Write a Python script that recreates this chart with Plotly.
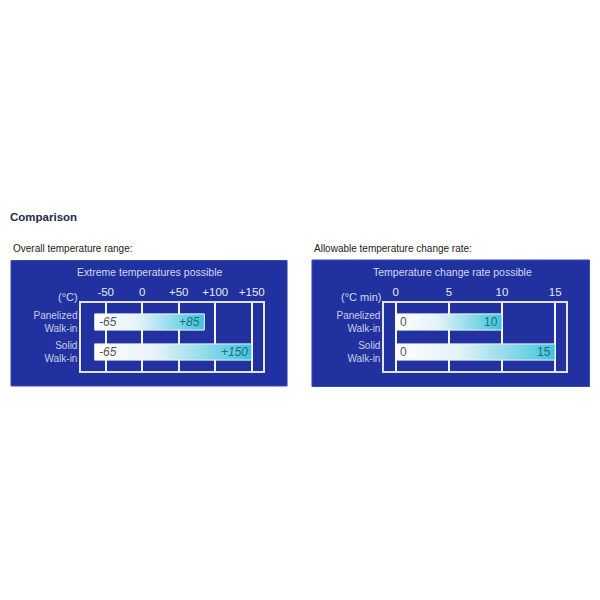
import plotly.graph_objects as go

# data
CATEGORIES = ["Panelized<br>Walk-in", "Solid<br>Walk-in"]
TEMP_LOW = [-65, -65]
TEMP_HIGH = [85, 150]
TEMP_TICKS = [-50, 0, 50, 100, 150]
TEMP_TICK_TEXT = ["-50", "0", "+50", "+100", "+150"]
TEMP_LOW_TEXT = ["-65", "-65"]
TEMP_HIGH_TEXT = ["+85", "+150"]

RATE_LOW = [0, 0]
RATE_HIGH = [10, 15]
RATE_TICKS = [0, 5, 10, 15]
RATE_TICK_TEXT = ["0", "5", "10", "15"]

BOX_BLUE = "#2132a0"
BAR_CYAN = "#3ec3dd"
FONT = "Liberation Sans, Arial, sans-serif"

# the page body adds 8px around the plot div, so positions below are
# given in page pixels and shifted back into figure space
W = H = 592
OFF = 8


def px(x):
    return (x - OFF) / W


def py(y):
    return 1 - (y - OFF) / H


fig = go.Figure()
bar_labels = []


def add_bars(xaxis, yaxis, lows, highs, low_text, high_text, italic):
    half = 0.27
    for i, (lo, hi) in enumerate(zip(lows, highs)):
        fig.add_trace(
            go.Scatter(
                x=[lo, hi, hi, lo, lo],
                y=[i - half, i - half, i + half, i + half, i - half],
                mode="lines",
                fill="toself",
                line=dict(color="#f4f8fc", width=1),
                fillgradient=dict(
                    type="horizontal",
                    colorscale=[[0, "#ffffff"], [0.4, "#e2f3f9"], [1, BAR_CYAN]],
                ),
                hoverinfo="skip",
                showlegend=False,
                xaxis=xaxis,
                yaxis=yaxis,
            )
        )
        style = "italic" if italic else "normal"
        bar_labels.append(
            dict(
                text=low_text[i], x=lo, y=i, xref=xaxis, yref=yaxis,
                xanchor="left", yanchor="middle", xshift=2, showarrow=False,
                font=dict(family=FONT, size=12, color="#555555", style=style),
            )
        )
        bar_labels.append(
            dict(
                text=high_text[i], x=hi, y=i, xref=xaxis, yref=yaxis,
                xanchor="right", yanchor="middle", xshift=-2, showarrow=False,
                font=dict(family=FONT, size=12, color="#1f6e7e", style=style),
            )
        )


add_bars("x", "y", TEMP_LOW, TEMP_HIGH, TEMP_LOW_TEXT, TEMP_HIGH_TEXT, True)
add_bars(
    "x2", "y2", RATE_LOW, RATE_HIGH,
    [str(v) for v in RATE_LOW], [str(v) for v in RATE_HIGH], False,
)

xcommon = dict(
    side="top",
    showgrid=True,
    gridcolor="#f2f4fa",
    gridwidth=2,
    zeroline=False,
    showline=True,
    linecolor="#dfe3f2",
    linewidth=2,
    mirror=True,
    ticks="",
    tickfont=dict(family=FONT, size=11.5, color="#e4e8f6"),
    fixedrange=True,
)
ycommon = dict(
    range=[1.633, -0.633],
    tickvals=[0, 1],
    ticktext=CATEGORIES,
    showgrid=False,
    zeroline=False,
    showline=True,
    linecolor="#dfe3f2",
    linewidth=2,
    mirror=True,
    ticks="",
    tickfont=dict(family=FONT, size=10, color="#c9cde9"),
    fixedrange=True,
)

fig.update_layout(
    width=W,
    height=H,
    margin=dict(l=0, r=0, t=0, b=0),
    paper_bgcolor="white",
    plot_bgcolor="rgba(0,0,0,0)",
    font=dict(family=FONT),
    xaxis=dict(
        xcommon,
        domain=[px(81.7), px(264)],
        range=[-83.2, 165.5],
        tickvals=TEMP_TICKS,
        ticktext=TEMP_TICK_TEXT,
        anchor="y",
    ),
    yaxis=dict(ycommon, domain=[py(371), py(303)], anchor="x"),
    xaxis2=dict(
        xcommon,
        domain=[px(385.7), px(568.3)],
        range=[-1.06, 16.06],
        tickvals=RATE_TICKS,
        ticktext=RATE_TICK_TEXT,
        anchor="y2",
    ),
    yaxis2=dict(ycommon, domain=[py(371), py(303)], anchor="x2"),
    shapes=[
        dict(
            type="rect", xref="paper", yref="paper", layer="below",
            x0=px(11), x1=px(288), y0=py(386), y1=py(260.5),
            fillcolor=BOX_BLUE, line=dict(color="#3a4bb0", width=1),
        ),
        dict(
            type="rect", xref="paper", yref="paper", layer="below",
            x0=px(313), x1=px(591.5), y0=py(386.5), y1=py(260),
            fillcolor=BOX_BLUE, line=dict(color="#3a4bb0", width=1),
        ),
    ],
    annotations=bar_labels + [
        dict(
            text="<b>Comparison</b>", x=px(8), y=py(217), xref="paper", yref="paper",
            xanchor="left", yanchor="middle", showarrow=False,
            font=dict(family=FONT, size=11.5, color="#1c2b4c"),
        ),
        dict(
            text="Overall temperature range:", x=px(11), y=py(249), xref="paper",
            yref="paper", xanchor="left", yanchor="middle", showarrow=False,
            font=dict(family=FONT, size=10, color="#222222"),
        ),
        dict(
            text="Allowable temperature change rate:", x=px(313), y=py(249),
            xref="paper", yref="paper", xanchor="left", yanchor="middle",
            showarrow=False, font=dict(family=FONT, size=10, color="#222222"),
        ),
        dict(
            text="Extreme temperatures possible", x=px(150), y=py(272),
            xref="paper", yref="paper", xanchor="center", yanchor="middle",
            showarrow=False, font=dict(family=FONT, size=10.5, color="#d3d8ef"),
        ),
        dict(
            text="Temperature change rate possible", x=px(453.7), y=py(272),
            xref="paper", yref="paper", xanchor="center", yanchor="middle",
            showarrow=False, font=dict(family=FONT, size=10.5, color="#d3d8ef"),
        ),
        dict(
            text="(°C)", x=px(80), y=py(296.7), xref="paper", yref="paper",
            xanchor="right", yanchor="middle", showarrow=False,
            font=dict(family=FONT, size=11, color="#d3d8ef"),
        ),
        dict(
            text="(°C min)", x=px(384), y=py(296.7), xref="paper", yref="paper",
            xanchor="right", yanchor="middle", showarrow=False,
            font=dict(family=FONT, size=11, color="#d3d8ef"),
        ),
    ],
)

fig.write_html("out.html")
